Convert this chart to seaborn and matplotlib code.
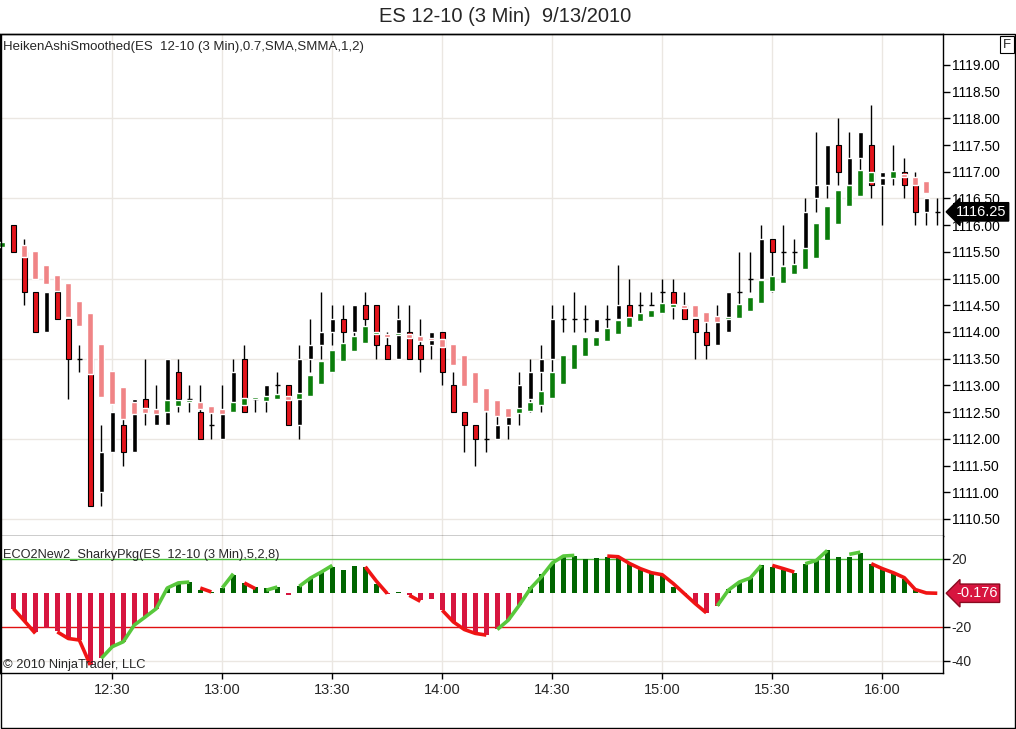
import numpy as np
import pandas as pd
import matplotlib
matplotlib.use("Agg")
import matplotlib.pyplot as plt
import matplotlib.transforms as mtransforms
from matplotlib.patches import Rectangle
import seaborn as sns

sns.set_theme(style="white")
plt.rcParams["font.family"] = ["Liberation Sans", "DejaVu Sans"]
plt.rcParams["axes.unicode_minus"] = False

nan = np.nan

# 3 min bars, bar 0 = 12:00
tick_bars = [10, 20, 30, 40, 50, 60, 70, 80]
tick_labels = ["12:30", "13:00", "13:30", "14:00", "14:30", "15:00", "15:30", "16:00"]

# ES 12-10 candles
bar_open = [nan, 1116.0, 1115.5, 1114.75, 1114.0, 1114.75, 1114.25, 1113.5, 1113.5, 1111.0,
            1111.75, 1112.25, 1111.75, 1112.75, 1112.25, 1112.25, 1113.25, 1112.75, 1112.5, 1112.25,
            1112.0, 1112.5, 1113.5, 1112.75, 1112.75, 1113.0, 1113.0, 1112.25, 1113.5, 1113.75,
            1114.0, 1114.25, 1114.0, 1114.5, 1114.5, 1113.75, 1113.5, 1114.0, 1113.75, 1113.75,
            1114.0, 1113.0, 1112.5, 1112.25, 1112.0, 1112.0, 1112.25, 1112.5, 1112.75, 1113.25,
            1113.5, 1114.25, 1114.25, 1114.25, 1114.0, 1114.25, 1114.25, 1114.5, 1114.5, 1114.5,
            1114.75, 1114.75, 1114.5, 1114.25, 1114.0, 1113.75, 1114.0, 1114.75, 1115.0, 1115.0,
            1115.75, 1115.5, 1115.5, 1115.5, 1116.5, 1116.75, 1117.5, 1116.75, 1117.25, 1117.5,
            1116.75, 1117.0, 1117.0, 1116.75, 1116.25, 1116.25]
bar_high = [nan, 1116.0, 1115.75, 1114.75, 1114.75, 1114.75, 1114.25, 1113.75, 1113.5, 1112.25,
            1112.5, 1112.5, 1112.75, 1113.5, 1113.0, 1113.5, 1113.5, 1113.0, 1113.0, 1112.5,
            1113.0, 1113.5, 1113.75, 1112.75, 1113.0, 1113.25, 1113.0, 1113.75, 1114.25, 1114.75,
            1114.5, 1114.5, 1114.5, 1114.75, 1114.5, 1114.0, 1114.5, 1114.5, 1114.25, 1114.0,
            1114.0, 1113.25, 1112.5, 1112.25, 1112.5, 1112.5, 1112.5, 1113.25, 1113.5, 1113.75,
            1114.5, 1114.5, 1114.75, 1114.5, 1114.25, 1114.5, 1115.25, 1115.0, 1114.75, 1114.75,
            1115.0, 1115.0, 1114.75, 1114.25, 1114.25, 1114.5, 1114.75, 1115.5, 1115.5, 1116.0,
            1115.75, 1116.0, 1115.75, 1116.5, 1117.75, 1117.5, 1118.0, 1117.75, 1117.75, 1118.25,
            1117.0, 1117.5, 1117.25, 1117.0, 1116.5, 1116.5]
bar_low = [nan, 1115.5, 1114.5, 1114.0, 1114.0, 1114.25, 1112.75, 1113.25, 1110.75, 1110.75,
           1111.75, 1111.5, 1111.75, 1112.25, 1112.25, 1112.25, 1112.5, 1112.5, 1112.0, 1112.0,
           1112.0, 1112.5, 1112.5, 1112.5, 1112.5, 1112.75, 1112.25, 1112.0, 1113.25, 1113.5,
           1113.75, 1113.75, 1113.75, 1114.0, 1113.5, 1113.5, 1113.5, 1113.5, 1113.25, 1113.5,
           1113.0, 1112.5, 1111.75, 1111.5, 1111.75, 1112.0, 1112.0, 1112.25, 1112.5, 1112.5,
           1113.25, 1114.0, 1114.0, 1114.0, 1114.0, 1114.0, 1114.0, 1114.25, 1114.25, 1114.5,
           1114.5, 1114.25, 1114.25, 1113.5, 1113.5, 1113.75, 1114.0, 1114.5, 1114.75, 1114.75,
           1114.75, 1115.25, 1115.25, 1115.25, 1116.25, 1116.5, 1116.75, 1116.75, 1117.0, 1116.5,
           1116.0, 1116.75, 1116.5, 1116.0, 1116.0, 1116.0]
bar_close = [nan, 1115.5, 1114.75, 1114.0, 1114.75, 1114.25, 1113.5, 1113.5, 1110.75, 1111.75,
             1112.5, 1111.75, 1112.75, 1112.5, 1112.5, 1113.5, 1112.75, 1112.75, 1112.0, 1112.25,
             1112.5, 1113.25, 1112.5, 1112.75, 1113.0, 1113.0, 1112.25, 1113.5, 1113.75, 1114.0,
             1114.25, 1114.0, 1114.5, 1114.25, 1113.75, 1113.5, 1114.25, 1113.5, 1113.5, 1114.0,
             1113.25, 1112.5, 1112.25, 1112.0, 1112.0, 1112.25, 1112.5, 1113.0, 1113.25, 1113.5,
             1114.25, 1114.25, 1114.25, 1114.25, 1114.25, 1114.25, 1114.5, 1114.25, 1114.5, 1114.5,
             1114.75, 1114.5, 1114.25, 1114.0, 1113.75, 1114.25, 1114.75, 1114.75, 1115.0, 1115.75,
             1115.5, 1115.5, 1115.5, 1116.25, 1116.75, 1117.5, 1117.0, 1117.25, 1117.75, 1116.75,
             1117.0, 1117.0, 1116.75, 1116.25, 1116.5, 1116.25]

# HeikenAshiSmoothed open / close
ha_open = [1115.59, nan, 1115.63, 1115.52, 1115.26, 1115.07, 1114.91, 1114.58, 1114.36, 1113.78,
           1113.27, 1112.97, 1112.68, 1112.58, 1112.56, 1112.50, 1112.61, 1112.69, 1112.69, 1112.61,
           1112.55, 1112.50, 1112.63, 1112.74, 1112.71, 1112.75, 1112.81, 1112.75, 1112.81, 1113.02,
           1113.25, 1113.46, 1113.64, 1113.79, 1113.96, 1113.96, 1113.95, 1113.96, 1113.92, 1113.89,
           1113.86, 1113.78, 1113.56, 1113.25, 1112.95, 1112.72, 1112.58, 1112.48, 1112.53, 1112.63,
           1112.77, 1113.02, 1113.31, 1113.55, 1113.74, 1113.83, 1113.96, 1114.10, 1114.20, 1114.28,
           1114.36, 1114.47, 1114.50, 1114.50, 1114.38, 1114.30, 1114.24, 1114.27, 1114.39, 1114.54,
           1114.77, 1114.91, 1115.09, 1115.18, 1115.38, 1115.72, 1116.03, 1116.36, 1116.55, 1116.81,
           1116.91, 1116.89, 1116.95, 1116.91, 1116.83, nan]
ha_close = [1115.68, nan, 1115.41, 1115.00, 1114.89, 1114.76, 1114.29, 1114.12, 1113.22, 1112.78,
            1112.66, 1112.38, 1112.46, 1112.48, 1112.47, 1112.72, 1112.72, 1112.72, 1112.55, 1112.48,
            1112.46, 1112.69, 1112.77, 1112.78, 1112.80, 1112.84, 1112.73, 1112.85, 1113.19, 1113.46,
            1113.66, 1113.80, 1113.92, 1114.11, 1114.00, 1113.91, 1113.99, 1113.89, 1113.84, 1113.85,
            1113.72, 1113.38, 1112.99, 1112.67, 1112.52, 1112.42, 1112.40, 1112.58, 1112.69, 1112.90,
            1113.26, 1113.56, 1113.77, 1113.91, 1113.91, 1114.08, 1114.23, 1114.28, 1114.36, 1114.42,
            1114.54, 1114.53, 1114.44, 1114.29, 1114.19, 1114.19, 1114.29, 1114.52, 1114.66, 1114.97,
            1115.05, 1115.24, 1115.27, 1115.58, 1116.05, 1116.35, 1116.65, 1116.75, 1117.03, 1117.00,
            1116.88, 1117.01, 1116.90, 1116.76, 1116.61, nan]

# ECO2New2_SharkyPkg: histogram and signal line
eco_hist = [nan, -9.2, -16.4, -23.0, -20.5, -22.5, -26.8, -27.7, -42.4, -38.5,
            -31.6, -28.7, -18.9, -14.1, -9.2, 2.9, 5.9, 6.4, 2.0, 0.6,
            3.0, 10.5, 5.9, 3.5, 3.0, 3.5, -1.4, 3.9, 8.7, 12.3,
            15.2, 13.7, 15.8, 15.4, 5.5, -0.4, 0.6, -1.4, -4.3, -3.3,
            -10.2, -17.0, -21.5, -23.8, -24.8, -21.5, -16.0, -7.2, 3.5, 11.3,
            17.6, 21.7, 21.5, 20.1, 20.7, 21.3, 21.1, 17.2, 14.3, 11.9,
            10.7, 3.5, -0.4, -6.3, -11.7, -7.6, 2.5, 6.4, 8.8, 16.2,
            15.2, 13.3, 11.7, 17.2, 19.1, 25.0, 21.1, 21.1, 23.4, 17.2,
            14.3, 11.7, 8.4, 1.6, 0.0, -0.176]
eco_line = [nan, -9.2, -16.4, -23.8, -20.5, -22.9, -26.8, -27.7, -42.4, -38.5,
            -31.6, -28.7, -18.9, -14.1, -9.2, 2.9, 5.9, 6.4, 2.9, 0.6,
            3.0, 11.3, 5.9, 2.5, 1.6, 3.5, -1.4, 3.9, 8.7, 12.3,
            16.2, 13.7, 15.8, 15.4, 7.0, -0.4, 0.6, -1.4, -4.9, -3.3,
            -10.2, -17.0, -21.5, -23.8, -24.8, -21.5, -16.0, -7.2, 2.5, 9.4,
            17.6, 21.7, 22.1, 20.1, 20.7, 21.7, 21.3, 17.4, 14.3, 11.9,
            10.7, 5.5, -0.4, -6.3, -11.7, -7.6, 1.6, 6.4, 8.8, 16.2,
            16.2, 14.3, 12.3, 17.2, 19.1, 25.0, 21.1, 22.7, 24.0, 17.2,
            14.3, 11.9, 9.0, 2.0, 0.0, -0.176]
# colour of the line piece ending at each bar (r = red, g = green, n = not drawn)
eco_seg = list("nnrrnnrrrn" "ggggggggnr" "ngnrngnngg" "gnnnrrnnrn" "nrrrrngggg"
               "gggnnnrrrr" "rrrrrngggg" "nrrnggnngn" "rrrrrr")

n = len(bar_open)
bars = np.arange(n)
df = pd.DataFrame({"bar": bars, "o": bar_open, "h": bar_high, "l": bar_low, "c": bar_close,
                   "ha_o": ha_open, "ha_c": ha_close, "eco_hist": eco_hist, "eco_line": eco_line})

W, H = 1016, 729
def rect(x0, y0, x1, y1):
    return [x0 / W, 1 - y1 / H, (x1 - x0) / W, (y1 - y0) / H]

fig = plt.figure(figsize=(W / 100, H / 100), dpi=100, facecolor="white")
ax = fig.add_axes(rect(0, 34, 943, 536))
ax2 = fig.add_axes(rect(0, 536, 943, 673))

grid_c = "#ebe7e2"
xlim = (-0.21, 85.52)

# ---- price panel ----
for p in [1110.5, 1112.0, 1113.5, 1115.0, 1116.5, 1118.0]:
    ax.axhline(p, color=grid_c, lw=1, zorder=0)
for b in tick_bars:
    ax.axvline(b, color=grid_c, lw=1, zorder=0)

cd = df.dropna(subset=["o"])
up = cd[cd["c"] > cd["o"]]
dn = cd[cd["c"] < cd["o"]]
fl = cd[cd["c"] == cd["o"]]
ax.vlines(cd["bar"], cd["l"], cd["h"], color="black", lw=1, zorder=2)
ax.bar(up["bar"], up["c"] - up["o"], bottom=up["o"], width=0.42, color="black", zorder=3)
ax.bar(dn["bar"], dn["o"] - dn["c"], bottom=dn["c"], width=0.42, color="#e3141b",
       edgecolor="black", linewidth=0.8, zorder=3)
ax.hlines(fl["c"], fl["bar"] - 0.24, fl["bar"] + 0.24, color="black", lw=1, zorder=3)

ha = df.dropna(subset=["ha_o"])
ha_up = ha[ha["ha_c"] >= ha["ha_o"]]
ha_dn = ha[ha["ha_c"] < ha["ha_o"]]
ax.bar(ha_up["bar"], np.maximum(ha_up["ha_c"] - ha_up["ha_o"], 0.03), bottom=ha_up["ha_o"],
       width=0.54, color="#0b7d0b", zorder=4)
ax.bar(ha_dn["bar"], np.maximum(ha_dn["ha_o"] - ha_dn["ha_c"], 0.03), bottom=ha_dn["ha_c"],
       width=0.54, color="#f08486", zorder=4)

ax.set_xlim(*xlim)
ax.set_ylim(1110.18, 1119.58)
ax.set_xticks([])
ax.yaxis.tick_right()
price_ticks = np.arange(1110.5, 1119.01, 0.5)
ax.set_yticks(price_ticks)
ax.set_yticklabels([f"{v:.2f}" for v in price_ticks])
ax.tick_params(axis="y", direction="out", length=5, width=1, color="black",
               labelsize=10, pad=1.2, labelcolor="black", right=True, left=False)
for s in ax.spines.values():
    s.set_color("black")
    s.set_linewidth(1)

# last price marker
tr = mtransforms.blended_transform_factory(ax.transAxes, ax.transData)
ax.text(1.0 + 13 / 943, bar_close[-1], f"{bar_close[-1]:.2f}", transform=tr, ha="left", va="center",
        color="white", fontsize=10.5, clip_on=False, zorder=10,
        bbox=dict(boxstyle="larrow,pad=0.15", fc="black", ec="black"))

# ---- indicator panel ----
for b in tick_bars:
    ax2.axvline(b, color=grid_c, lw=1, zorder=0)
ax2.axhline(-40, color=grid_c, lw=1, zorder=0)
ax2.axhline(20, color="#4cbf3c", lw=1, zorder=1)
ax2.axhline(-20, color="#e01010", lw=1, zorder=1)

ind = df.dropna(subset=["eco_hist"]).copy()
ind["sign"] = np.where(ind["eco_hist"] >= 0, "up", "down")
sns.barplot(data=ind, x="bar", y="eco_hist", hue="sign", palette={"up": "#006400", "down": "#d7153f"},
            native_scale=True, width=0.42, dodge=False, errorbar=None, legend=False,
            saturation=1, linewidth=0, ax=ax2, zorder=2)

line_col = {"r": "#f01414", "g": "#58c83c"}
k = 1
while k < n:
    col = eco_seg[k]
    if col == "n":
        k += 1
        continue
    j = k
    while j + 1 < n and eco_seg[j + 1] == col:
        j += 1
    ax2.plot(bars[k - 1:j + 1], df["eco_line"].values[k - 1:j + 1], color=line_col[col], lw=2.6,
             solid_capstyle="butt", solid_joinstyle="round", zorder=5)
    k = j + 1

ax2.set_xlim(*xlim)
ax2.set_ylim(-47.1, 33.5)
ax2.set_xlabel("")
ax2.set_ylabel("")
ax2.set_xticks(tick_bars)
ax2.set_xticklabels(tick_labels)
ax2.yaxis.tick_right()
ax2.set_yticks([20, -20, -40])
ax2.set_yticklabels(["20", "-20", "-40"])
ax2.tick_params(axis="y", direction="out", length=5, width=1, color="black",
                labelsize=10, pad=1.2, right=True, left=False)
ax2.tick_params(axis="x", direction="out", length=4, width=1, color="black",
                labelsize=10.5, pad=3.5, bottom=True)
for s in ax2.spines.values():
    s.set_color("black")
    s.set_linewidth(1)
ax2.spines["top"].set_visible(False)

tr2 = mtransforms.blended_transform_factory(ax2.transAxes, ax2.transData)
ax2.text(1.0 + 13 / 943, eco_line[-1], f"{eco_line[-1]:.3f}", transform=tr2, ha="left", va="center",
         color="white", fontsize=10.5, clip_on=False, zorder=10,
         bbox=dict(boxstyle="larrow,pad=0.15", fc="#d7153f", ec="#8a0a20"))

# ---- texts and frame ----
fig.text(505 / W, 1 - 17 / H, "ES 12-10 (3 Min)  9/13/2010", ha="center", va="center", fontsize=14.5)
fig.text(3 / W, 1 - 47 / H, "HeikenAshiSmoothed(ES  12-10 (3 Min),0.7,SMA,SMMA,1,2)",
         ha="left", va="center", fontsize=9.5)
fig.text(3 / W, 1 - 555 / H, "ECO2New2_SharkyPkg(ES  12-10 (3 Min),5,2,8)",
         ha="left", va="center", fontsize=9.2)
fig.text(3 / W, 1 - 665 / H, "© 2010 NinjaTrader, LLC", ha="left", va="center", fontsize=9.3)
fig.text(1007 / W, 1 - 44.5 / H, "F", ha="center", va="center", fontsize=9.5,
         bbox=dict(boxstyle="square,pad=0.2", fc="white", ec="black", lw=0.8))
fig.add_artist(Rectangle((0.5 / W, 1 - 728 / H), 1014.5 / W, (728 - 34) / H, transform=fig.transFigure,
                         fill=False, ec="black", lw=1))

fig.savefig("out.png", dpi=100, facecolor="white")
